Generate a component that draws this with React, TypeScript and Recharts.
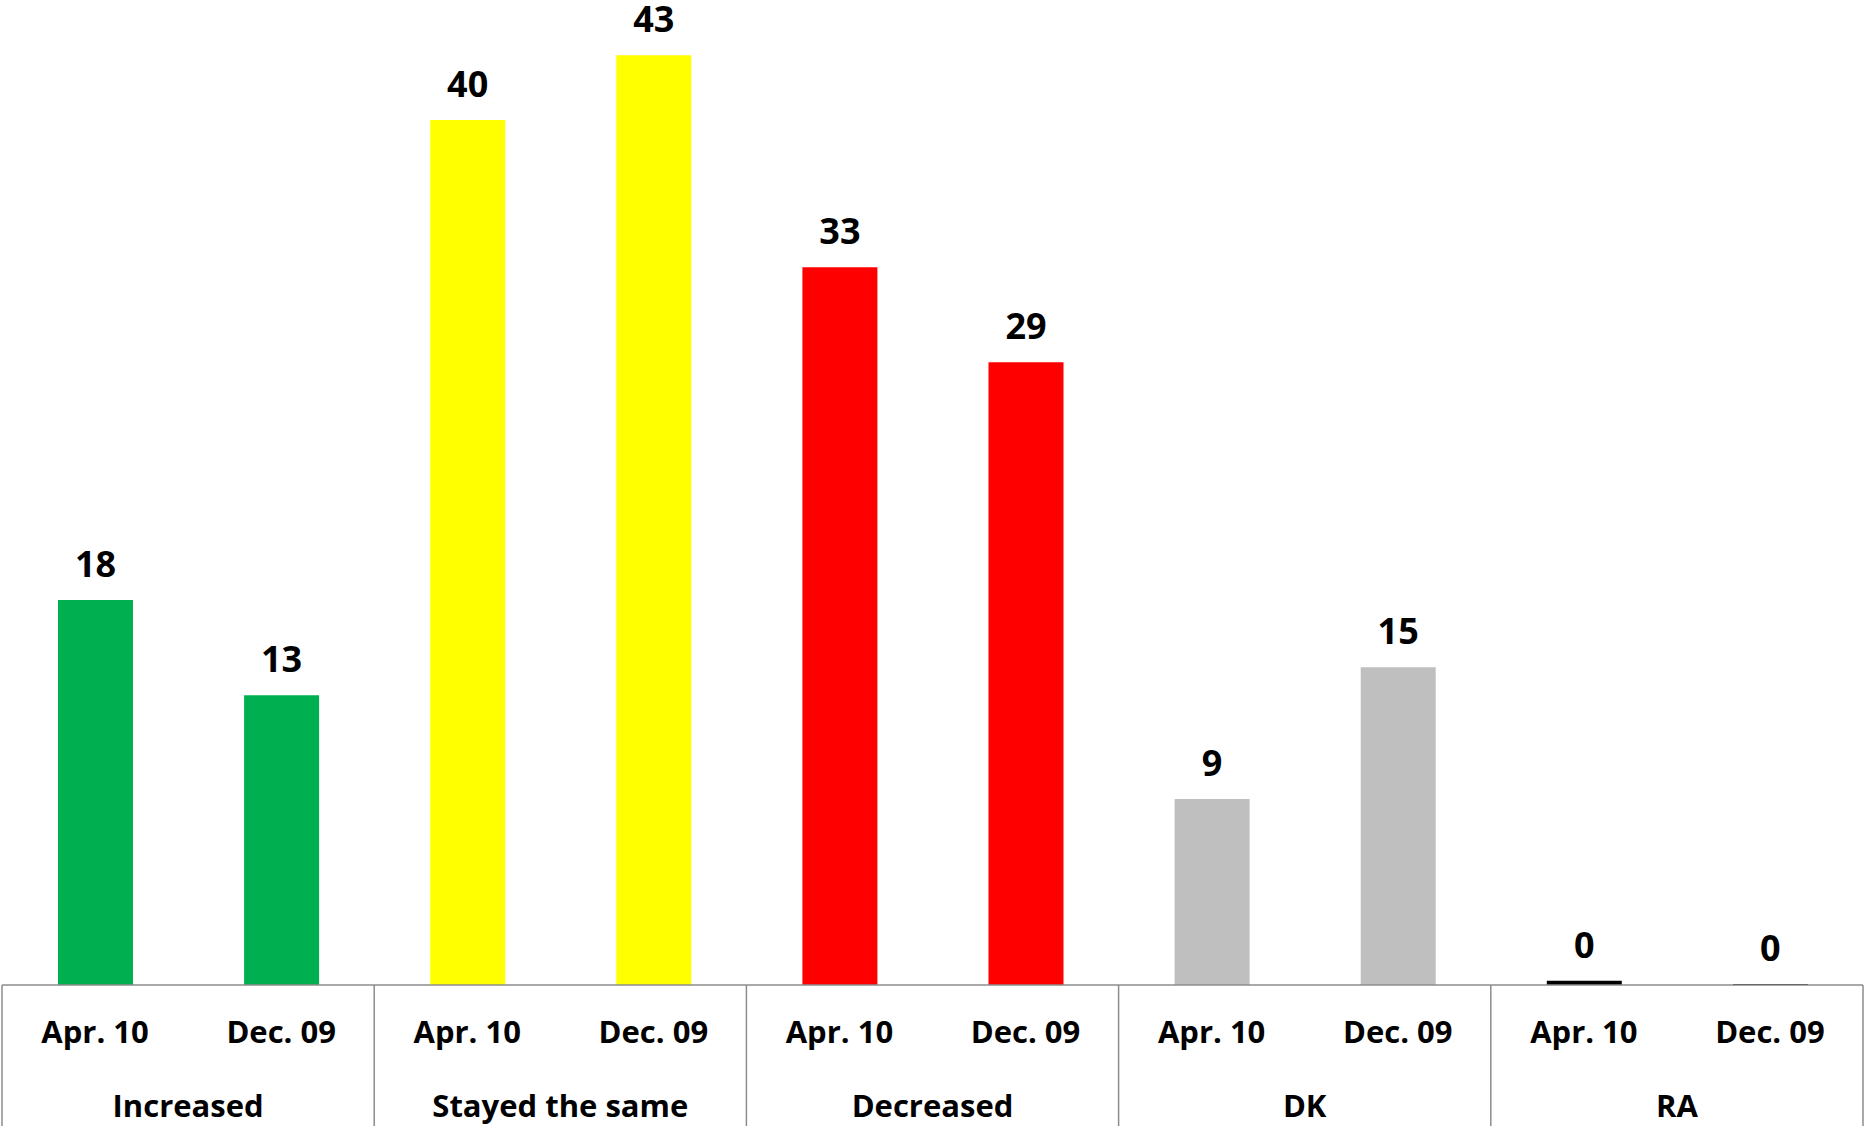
import { Bar, BarChart, Cell, LabelList, XAxis, YAxis } from "recharts";

const groups = ["Increased", "Stayed the same", "Decreased", "DK", "RA"];
const periods = ["Apr. 10", "Dec. 09"];
// labels show rounded values; RA bars are thin slivers that round to 0
const apr10 = [17.8, 40, 33.2, 8.6, 0.2];
const dec09 = [13.4, 43, 28.8, 14.7, 0.05];
const groupColors = ["#00B050", "#FFFF00", "#FF0000", "#BFBFBF", "#000000"];

const data = groups.flatMap((group, i) => [
  { group, period: periods[0], value: apr10[i] },
  { group, period: periods[1], value: dec09[i] },
]);

const WIDTH = 1865;
const HEIGHT = 1126;
const MARGIN = { top: 12, right: 2, bottom: 0, left: 2 };
const BAND = (WIDTH - MARGIN.left - MARGIN.right) / data.length;
const PERIOD_AXIS_H = 72;
const GROUP_AXIS_H = 69;
const FONT = "'Open Sans', 'DejaVu Sans', sans-serif";
const BORDER = "#8c8c8c";

function PeriodTick(props: any) {
  const { x, y, payload, index } = props;
  const lineBottom = y + PERIOD_AXIS_H + GROUP_AXIS_H;
  return (
    <g>
      {index % 2 === 0 && (
        <line
          x1={x - BAND / 2}
          x2={x - BAND / 2}
          y1={y}
          y2={lineBottom}
          stroke={BORDER}
          strokeWidth={1.5}
        />
      )}
      {index === data.length - 1 && (
        <line
          x1={x + BAND / 2}
          x2={x + BAND / 2}
          y1={y}
          y2={lineBottom}
          stroke={BORDER}
          strokeWidth={1.5}
        />
      )}
      <text
        x={x}
        y={y + 58}
        textAnchor="middle"
        fontFamily={FONT}
        fontWeight={700}
        fontSize={31}
        fill="#000"
      >
        {payload.value}
      </text>
    </g>
  );
}

function GroupTick(props: any) {
  const { x, y, payload, index } = props;
  if (index % 2 !== 0) return <g />;
  return (
    <text
      x={x + BAND / 2}
      y={y + 60}
      textAnchor="middle"
      fontFamily={FONT}
      fontWeight={700}
      fontSize={31}
      fill="#000"
    >
      {payload.value}
    </text>
  );
}

export default function App() {
  return (
    <div
      style={{
        position: "absolute",
        left: 0,
        top: 0,
        width: WIDTH,
        height: HEIGHT,
        background: "#fff",
      }}
    >
      <BarChart width={WIDTH} height={HEIGHT} data={data} margin={MARGIN}>
        <XAxis
          dataKey="period"
          height={PERIOD_AXIS_H}
          interval={0}
          tickLine={false}
          tickSize={0}
          tickMargin={0}
          axisLine={{ stroke: BORDER, strokeWidth: 1.5 }}
          tick={<PeriodTick />}
        />
        <XAxis
          dataKey="group"
          xAxisId="group"
          height={GROUP_AXIS_H}
          interval={0}
          tickLine={false}
          tickSize={0}
          tickMargin={0}
          axisLine={false}
          tick={<GroupTick />}
        />
        <YAxis hide domain={[0, 45]} />
        <Bar dataKey="value" barSize={75} isAnimationActive={false}>
          {data.map((_, index) => (
            <Cell key={index} fill={groupColors[Math.floor(index / 2)]} />
          ))}
          <LabelList
            dataKey="value"
            position="top"
            offset={23}
            formatter={(v: any) => Math.round(Number(v))}
            fontFamily={FONT}
            fontWeight={700}
            fontSize={36}
            fill="#000"
          />
        </Bar>
      </BarChart>
    </div>
  );
}
